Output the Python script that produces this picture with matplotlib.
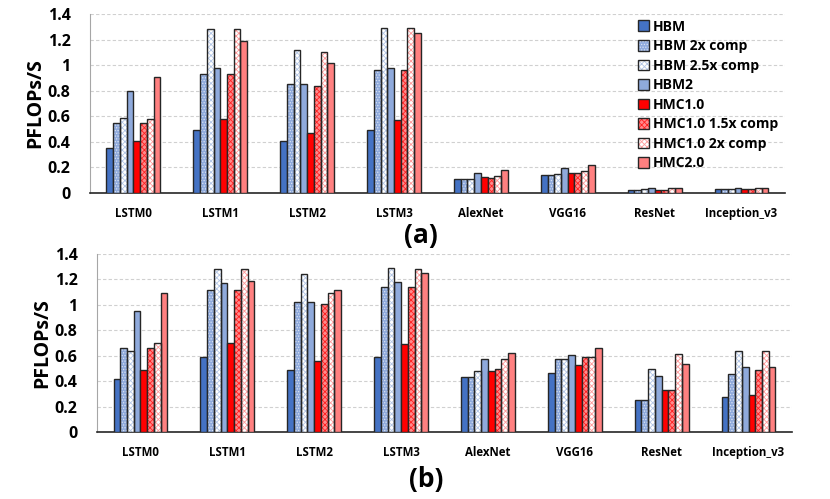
import numpy as np
import matplotlib.pyplot as plt

plt.rcParams['font.family'] = ['Open Sans', 'DejaVu Sans']
plt.rcParams['hatch.linewidth'] = 0.6

# --- data ---
workloads = ['LSTM0', 'LSTM1', 'LSTM2', 'LSTM3', 'AlexNet', 'VGG16', 'ResNet', 'Inception_v3']
series = ['HBM', 'HBM 2x comp', 'HBM 2.5x comp', 'HBM2',
          'HMC1.0', 'HMC1.0 1.5x comp', 'HMC1.0 2x comp', 'HMC2.0']

# panel (a), one row per series, one column per workload
vals_a = [
    [0.35, 0.49, 0.41, 0.49, 0.106, 0.14, 0.023, 0.029],
    [0.55, 0.93, 0.85, 0.96, 0.106, 0.14, 0.023, 0.029],
    [0.59, 1.28, 1.12, 1.29, 0.112, 0.145, 0.029, 0.031],
    [0.80, 0.98, 0.85, 0.98, 0.153, 0.195, 0.039, 0.039],
    [0.41, 0.58, 0.47, 0.57, 0.122, 0.158, 0.026, 0.031],
    [0.55, 0.93, 0.84, 0.96, 0.119, 0.158, 0.026, 0.031],
    [0.58, 1.28, 1.10, 1.29, 0.130, 0.174, 0.036, 0.036],
    [0.91, 1.19, 1.02, 1.25, 0.177, 0.221, 0.042, 0.036],
]
# panel (b)
vals_b = [
    [0.42, 0.59, 0.49, 0.59, 0.435, 0.467, 0.257, 0.275],
    [0.66, 1.12, 1.02, 1.14, 0.435, 0.579, 0.257, 0.461],
    [0.64, 1.28, 1.24, 1.29, 0.482, 0.574, 0.493, 0.637],
    [0.95, 1.17, 1.02, 1.18, 0.572, 0.606, 0.443, 0.511],
    [0.49, 0.70, 0.56, 0.69, 0.482, 0.532, 0.333, 0.294],
    [0.66, 1.12, 1.01, 1.14, 0.493, 0.590, 0.333, 0.488],
    [0.70, 1.28, 1.09, 1.28, 0.574, 0.590, 0.614, 0.642],
    [1.09, 1.19, 1.12, 1.25, 0.621, 0.658, 0.540, 0.514],
]

# face colour, hatch, hatch colour
styles = [
    ('#4472C4', '', None),
    ('#8FAADC', '......', '#DAE3F3'),
    ('#FFFFFF', 'xxxxxx', '#B4C7E7'),
    ('#8FAADC', '', None),
    ('#FF0000', '', None),
    ('#FF8A8C', 'xxxxxx', '#FF2020'),
    ('#FFFFFF', 'xxxxxx', '#FF9999'),
    ('#FF8080', '', None),
]
edge = '#262626'

fig = plt.figure(figsize=(8.3, 4.99), dpi=100)
ax_a = fig.add_axes([0.1084, 0.6132, 0.8373, 0.3587])
ax_b = fig.add_axes([0.1169, 0.1337, 0.8373, 0.3573])

x = np.arange(len(workloads))
n = len(series)
bw = 0.62 / n


def draw(ax, vals, legend=False):
    handles = []
    for i, (row, (fc, hatch, hc)) in enumerate(zip(vals, styles)):
        pos = x + (i - (n - 1) / 2) * bw
        if hatch:
            fill = ax.bar(pos, row, bw, color=fc, hatch=hatch, edgecolor=hc, linewidth=0, zorder=3)
            outline = ax.bar(pos, row, bw, fill=False, edgecolor=edge, linewidth=1.0, zorder=4)
            handles.append((fill[0], outline[0]))
        else:
            b = ax.bar(pos, row, bw, color=fc, edgecolor=edge, linewidth=1.0, zorder=3)
            handles.append(b[0])
    ax.set_xlim(-0.5, len(workloads) - 0.5)
    ax.set_ylim(0, 1.4)
    ax.set_yticks(np.arange(0, 1.41, 0.2))
    ax.set_yticklabels(['0', '0.2', '0.4', '0.6', '0.8', '1', '1.2', '1.4'],
                       fontsize=11.5, fontweight='bold')
    ax.set_xticks(x)
    ax.set_xticklabels(workloads, fontsize=8.3, fontweight='bold')
    ax.tick_params(axis='both', length=0)
    ax.tick_params(axis='x', pad=10)
    ax.tick_params(axis='y', pad=14)
    ax.grid(axis='y', color='#D0D0D0', linestyle=(0, (3, 2)), linewidth=0.8, zorder=0)
    for s in ['top', 'right']:
        ax.spines[s].set_visible(False)
    ax.spines['left'].set_color('#A6A6A6')
    ax.spines['bottom'].set_color('#262626')
    ax.spines['bottom'].set_linewidth(1.2)
    ax.set_ylabel('PFLOPs/S', fontsize=14, fontweight='bold', labelpad=2)
    if legend:
        ax.legend(handles, series, loc='upper left', bbox_to_anchor=(0.78, 1.0),
                  frameon=False, prop={'weight': 'bold', 'size': 10},
                  handlelength=0.8, handleheight=0.8, handletextpad=0.3,
                  labelspacing=0.4, borderaxespad=0)


draw(ax_a, vals_a, legend=True)
draw(ax_b, vals_b)

fig.text(421 / 830, 1 - 235 / 499, '(a)', fontsize=19, fontweight='bold', ha='center', va='center')
fig.text(426 / 830, 1 - 480 / 499, '(b)', fontsize=19, fontweight='bold', ha='center', va='center')

fig.savefig('out.png', dpi=100)
